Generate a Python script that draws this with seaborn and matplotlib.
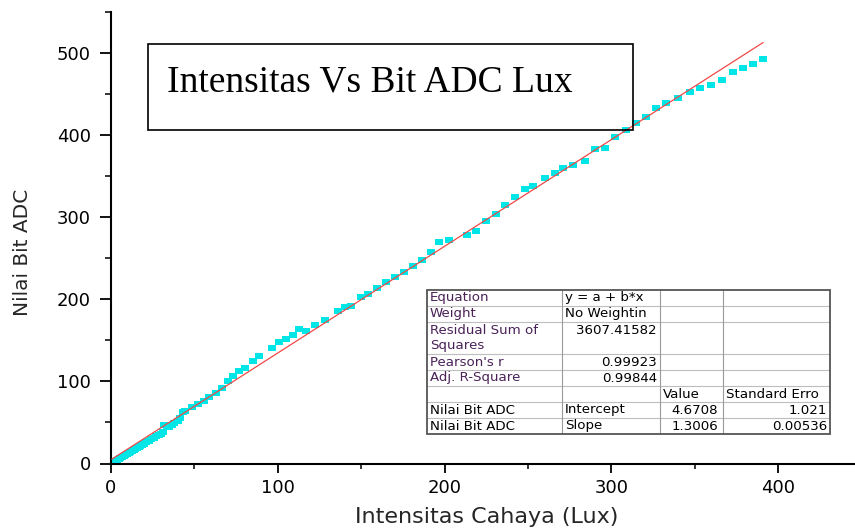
import numpy as np
import pandas as pd
import matplotlib
matplotlib.use("Agg")
import matplotlib.pyplot as plt
import seaborn as sns
from matplotlib.patches import Rectangle
from matplotlib.lines import Line2D
from matplotlib.ticker import MultipleLocator

# ---------------- data ----------------
lux = [0.5, 1.5, 2.5, 3.5, 4.5, 5.5, 6.5, 7.5, 8.5, 9.5, 10.5, 11.5, 12.5, 13.5,
       14.5, 15.5, 16.5, 17.5, 18.5, 19.5, 21, 22.5, 24, 25.5, 27, 28.5, 30, 31,
       32, 33.5, 35, 36.5, 38, 40, 41.5, 43, 44.5, 48.5, 52, 55.5, 59, 63, 66.5,
       70, 73, 77, 80.5, 85, 88.5, 96.5, 101, 105, 109, 113, 117, 122.5, 128,
       136, 140.5, 144, 150, 154, 159.5, 165, 170, 175.5, 181, 186.5, 192,
       196.5, 202.5, 213.5, 219, 225, 231, 236, 242, 248, 253, 260, 266, 271,
       277, 284, 290, 296, 302, 308.5, 315, 321, 327, 333, 340, 347, 353,
       359.5, 366.5, 373, 379, 385, 391]
adc = [0.5, 1.5, 2.5, 4, 5, 6.5, 7.5, 9, 10, 11.5, 12.5, 14, 15, 16.5,
       17.5, 19, 20, 21.5, 22.5, 24, 26, 27.5, 29.5, 31.5, 33.5, 35, 36.5, 39,
       47.5, 44, 45, 47, 49.5, 52, 55, 63, 64.5, 68.5, 72.5, 76.5, 80.5, 85.5, 92,
       101, 107, 113, 117, 125.5, 130.5, 140.5, 148.5, 152, 157, 164, 161, 169, 175,
       185.5, 190.5, 192.5, 202.5, 206.5, 214.5, 221.5, 227, 233, 241, 247.5, 257.5,
       270.5, 273, 278.5, 284, 296, 304, 315, 324.5, 334.5, 338, 348, 354, 360,
       364, 368.5, 383.5, 384.5, 398.5, 406.5, 415.5, 422.5, 433.5, 439.5, 445, 453, 457.5,
       461.5, 467.5, 477.5, 481.5, 487.5, 493.5]

fit_intercept = 4.6708
fit_slope = 1.3006

x_ticks = [0, 100, 200, 300, 400]
y_ticks = [0, 100, 200, 300, 400, 500]

title_text = "Intensitas Vs Bit ADC Lux"
x_label = "Intensitas Cahaya (Lux)"
y_label = "Nilai Bit ADC"

stat_labels = ["Equation", "Weight", "Residual Sum of\nSquares", "Pearson's r", "Adj. R-Square"]
stat_values = ["y = a + b*x", "No Weightin", "3607.41582", "0.99923", "0.99844"]
param_header = ["Value", "Standard Erro"]
param_rows = [["Nilai Bit ADC", "Intercept", "4.6708", "1.021"],
              ["Nilai Bit ADC", "Slope", "1.3006", "0.00536"]]

# ---------------- figure ----------------
sns.set_style("ticks")
plt.rcParams["font.family"] = ["DejaVu Sans"]

W, H = 855, 528
fig = plt.figure(figsize=(W / 100, H / 100), dpi=100)


def fx(px):
    return px / W


def fy(py):
    return 1 - py / H


ax = fig.add_axes([fx(111), fy(463.5), 750.6 / W, 451.2 / H])

df = pd.DataFrame({"lux": lux, "adc": adc})
marker = [(-1, -0.72), (1, -0.72), (1, 0.72), (-1, 0.72), (-1, -0.72)]
sns.scatterplot(data=df, x="lux", y="adc", ax=ax, marker=marker, s=32,
                color="#00E6E6", linewidth=0, zorder=2, legend=False)

fx_vals = np.array([min(lux), max(lux)])
fit_df = pd.DataFrame({"lux": fx_vals, "adc": fit_intercept + fit_slope * fx_vals})
sns.lineplot(data=fit_df, x="lux", y="adc", ax=ax, color="#F04848",
             linewidth=0.9, zorder=3)

ax.set_xlim(0, 450)
ax.set_ylim(0, 550)
ax.set_xticks(x_ticks)
ax.set_yticks(y_ticks)
ax.xaxis.set_minor_locator(MultipleLocator(50))
ax.yaxis.set_minor_locator(MultipleLocator(50))
for s in ["top", "right"]:
    ax.spines[s].set_visible(False)
for s in ["left", "bottom"]:
    ax.spines[s].set_linewidth(1.5)
    ax.spines[s].set_color("black")
ax.tick_params(axis="x", which="major", length=6.5, width=1.3, pad=5,
               labelsize=13, colors="black", direction="out")
ax.tick_params(axis="x", which="minor", length=3.8, width=1.3, direction="out")
ax.tick_params(axis="y", which="major", length=8, width=1.3, pad=6.5,
               labelsize=13, colors="black", direction="out")
ax.tick_params(axis="y", which="minor", length=4.5, width=1.3, direction="out")

ax.set_xlabel(x_label, fontsize=16)
ax.xaxis.label.set_va("center")
ax.xaxis.set_label_coords(0.5, -(517 - 463.5) / 451.2)
ax.set_ylabel(y_label, fontsize=14.5)
ax.yaxis.label.set_va("center")
ax.yaxis.set_label_coords(-(111 - 22.5) / 750.6, (463.5 - 252.5) / 451.2)

# ---------------- title box ----------------
fig.add_artist(Rectangle((fx(148), fy(130)), fx(633) - fx(148), fy(44) - fy(130),
                         transform=fig.transFigure, fill=False,
                         edgecolor="black", linewidth=1.2, zorder=5))
fig.text(fx(167), fy(91), title_text, family="Liberation Serif", fontsize=27,
         va="baseline", ha="left", color="black")

# ---------------- stats table ----------------
cols = [427, 562, 660, 723, 830]
rows = [290, 306, 322, 354, 370, 386, 402, 418, 434]
fig.add_artist(Rectangle((fx(cols[0]), fy(rows[-1])), fx(cols[-1]) - fx(cols[0]),
                         fy(rows[0]) - fy(rows[-1]), transform=fig.transFigure,
                         facecolor="white", edgecolor="none", zorder=6))
for r in rows[1:-1]:
    fig.add_artist(Line2D([fx(cols[0]), fx(cols[-1])], [fy(r), fy(r)],
                          transform=fig.transFigure, color="#BDBDBD", lw=0.8, zorder=7))
for c in cols[1:-1]:
    fig.add_artist(Line2D([fx(c), fx(c)], [fy(rows[0]), fy(rows[-1])],
                          transform=fig.transFigure, color="#9A9A9A", lw=0.8, zorder=7))
fig.add_artist(Rectangle((fx(cols[0]), fy(rows[-1])), fx(cols[-1]) - fx(cols[0]),
                         fy(rows[0]) - fy(rows[-1]), transform=fig.transFigure,
                         fill=False, edgecolor="#555555", linewidth=1.3, zorder=8))

tfs = 9.6
purple = "#4A2257"
stat_row_tops = [290, 306, 322, 354, 370]
for lab, val, top in zip(stat_labels, stat_values, stat_row_tops):
    lines = lab.split("\n")
    for k, ln in enumerate(lines):
        fig.text(fx(430), fy(top + 8 + 15 * k), ln, fontsize=tfs, color=purple,
                 va="center", ha="left", zorder=9)
    if val[0].isdigit():
        fig.text(fx(657), fy(top + 8), val, fontsize=tfs, color="black",
                 va="center", ha="right", zorder=9)
    else:
        fig.text(fx(565), fy(top + 8), val, fontsize=tfs, color="black",
                 va="center", ha="left", zorder=9)

fig.text(fx(663), fy(394), param_header[0], fontsize=tfs, color="black",
         va="center", ha="left", zorder=9)
fig.text(fx(726), fy(394), param_header[1], fontsize=tfs, color="black",
         va="center", ha="left", zorder=9)
for row, top in zip(param_rows, [402, 418]):
    fig.text(fx(430), fy(top + 8), row[0], fontsize=tfs, color="black",
             va="center", ha="left", zorder=9)
    fig.text(fx(565), fy(top + 8), row[1], fontsize=tfs, color="black",
             va="center", ha="left", zorder=9)
    fig.text(fx(718), fy(top + 8), row[2], fontsize=tfs, color="black",
             va="center", ha="right", zorder=9)
    fig.text(fx(827), fy(top + 8), row[3], fontsize=tfs, color="black",
             va="center", ha="right", zorder=9)

fig.savefig("out.png", dpi=100)
